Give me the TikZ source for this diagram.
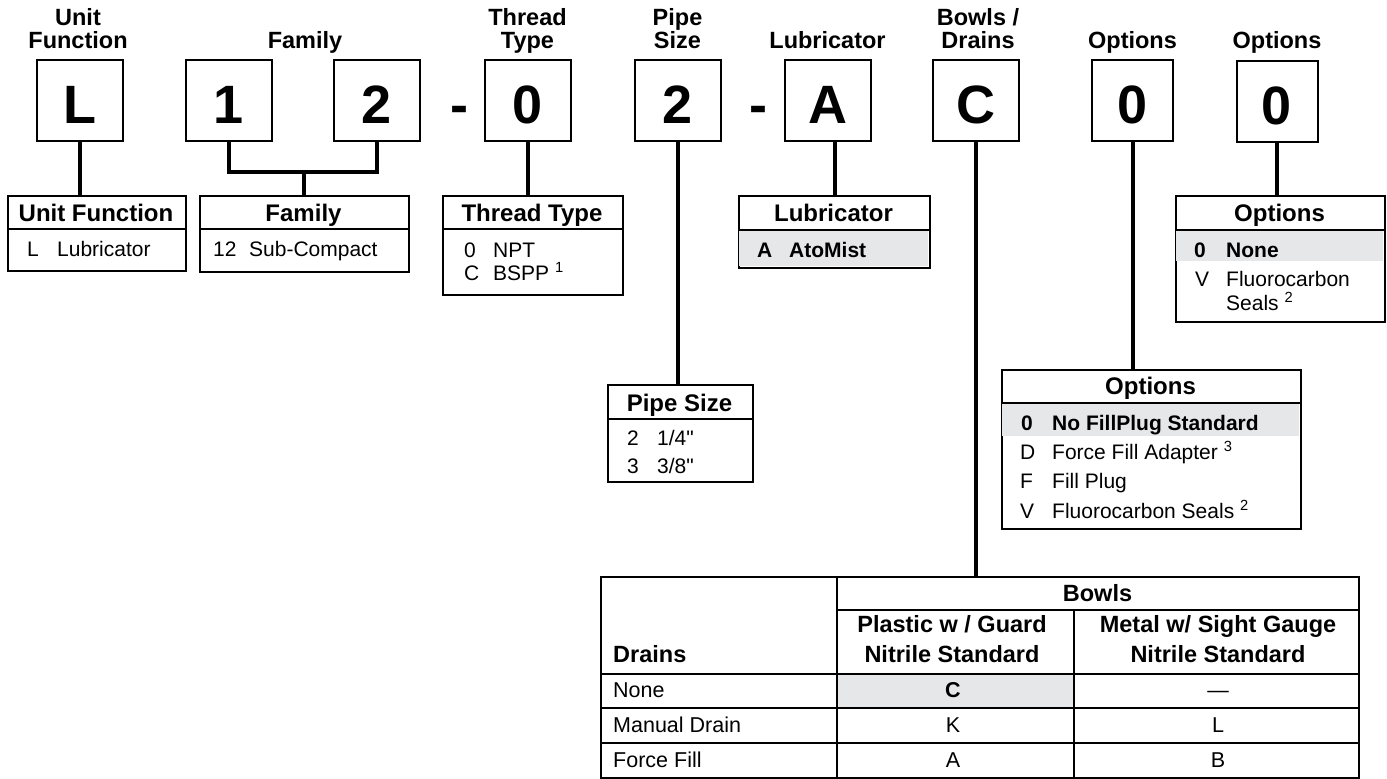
\documentclass[tikz,border=0pt]{standalone}
\usepackage{fontspec}
\setmainfont{Liberation Sans}
\newfontfamily\inchfont{Liberation Sans}
\usepackage{tikz}
\usetikzlibrary{positioning}
\definecolor{pickgray}{HTML}{E6E7E8}
\tikzstyle{codebox} = [rectangle, 
draw=black, 
line width=2pt, 
minimum width=86pt, 
minimum height=81pt, 
inner sep=0pt, 
text height=45pt, 
text depth=0pt, 
font=\fontsize{54}{54}\selectfont\bfseries]
\tikzstyle{hyph} = [anchor=base, inner sep=0pt, 
font=\fontsize{54}{54}\selectfont\bfseries]
\tikzstyle{toplabel} = [align=center, 
inner sep=0pt, 
text depth=0pt, 
anchor=south, 
font=\fontsize{23.5}{23}\selectfont\bfseries]
\tikzstyle{infobox} = [rectangle, 
draw=black, 
line width=2pt, 
anchor=north west, 
inner sep=0pt]
\tikzstyle{boxhead} = [anchor=base, inner sep=0pt, 
font=\fontsize{24}{26}\selectfont\bfseries]
\tikzstyle{tabhead} = [align=center, inner sep=0pt, 
text depth=0pt, anchor=south, 
font=\fontsize{23.5}{30}\selectfont\bfseries]
\tikzstyle{rowtext} = [anchor=base west, inner sep=0pt, 
font=\fontsize{21}{24}\selectfont]
\tikzstyle{rowbold} = [rowtext, 
font=\fontsize{21}{24}\selectfont\bfseries]
\tikzstyle{cellmid} = [anchor=base, inner sep=0pt, 
font=\fontsize{21.5}{24}\selectfont]
\tikzstyle{cellleft} = [cellmid, anchor=base west]
\tikzstyle{seprule} = [line width=2pt]
\tikzstyle{linkline} = [line width=4pt]
\tikzstyle{picked} = [fill=pickgray]

\begin{document}
\begin{tikzpicture}[x=1pt, y=-1pt]
        \useasboundingbox (0,0) rectangle (1387,779);

        % top labels
        \node (tUF) [toplabel] at (78,49) {Unit\\Function};
        \node (tFam) [toplabel] at (305,49) {Family};
        \node (tTT) [toplabel] at (527.5,49) {Thread\\Type};
        \node (tPS) [toplabel] at (677.5,49) {Pipe\\Size};
        \node (tLub) [toplabel] at (827.5,49) {Lubricator};
        \node (tBD) [toplabel] at (978,49) {Bowls /\\Drains};
        \node (tOpt1) [toplabel] at (1132.5,49) {Options};
        \node (tOpt2) [toplabel] at (1277,49) {Options};

        % code letters
        \node (cL) [codebox] at (80,100.5) {L};
        \node (cF1) [codebox] at (228.5,100.5) {1};
        \node (cF2) [codebox] at (377,100.5) {2};
        \node (h1) [hyph] at (459.5,123) {-};
        \node (cT) [codebox] at (527.5,100.5) {0};
        \node (cP) [codebox] at (677.5,100.5) {2};
        \node (h2) [hyph] at (758,123) {-};
        \node (cA) [codebox] at (827.5,100.5) {A};
        \node (cC) [codebox] at (976,100.5) {C};
        \node (cO1) [codebox, minimum width=81pt] at (1132.5,100.5) {0};
        \node (cO2) [codebox, minimum width=81pt] at (1277,101.5) {0};

        % unit function
        \node (ufbox) [infobox, minimum width=178pt, minimum height=75pt] at (7,195) {};
        \draw [seprule] (ufbox.west |- 0,229) -- (ufbox.east |- 0,229);
        \node (ufhead) [boxhead] at (96,221) {Unit Function};
        \node (ufL) [rowtext] at (27,256.5) {L};
        \node (ufLt) [rowtext] at (57,256.5) {Lubricator};

        % family
        \node (fambox) [infobox, minimum width=209pt, minimum height=76pt] at (199,195) {};
        \draw [seprule] (fambox.west |- 0,229) -- (fambox.east |- 0,229);
        \node (famhead) [boxhead] at (303.5,221) {Family};
        \node (fam12) [rowtext] at (213,256.5) {12};
        \node (fam12t) [rowtext] at (249,256.5) {Sub-Compact};

        % thread type
        \node (ttbox) [infobox, minimum width=180pt, minimum height=99pt] at (442,195) {};
        \draw [seprule] (ttbox.west |- 0,229) -- (ttbox.east |- 0,229);
        \node (tthead) [boxhead] at (532,221) {Thread Type};
        \node (tt0) [rowtext] at (464,257) {0};
        \node (tt0t) [rowtext] at (493,257) {NPT};
        \node (ttC) [rowtext] at (464,280) {C};
        \node (ttCt) [rowtext] at (493,280) {BSPP \textsuperscript{1}};

        % lubricator
        \node (lubbox) [infobox, minimum width=191pt, minimum height=72pt] at (738,195) {};
        \fill [picked] (739,231) rectangle (928,266);
        \draw [seprule] (lubbox.west |- 0,230) -- (lubbox.east |- 0,230);
        \node (lubhead) [boxhead] at (833.5,221) {Lubricator};
        \node (lubA) [rowbold] at (757,257) {A};
        \node (lubAt) [rowbold] at (789,257) {AtoMist};

        % options (seals)
        \node (robox) [infobox, minimum width=209pt, minimum height=126pt] at (1175,195) {};
        \fill [picked] (1176,231) rectangle (1383,261);
        \draw [seprule] (robox.west |- 0,230) -- (robox.east |- 0,230);
        \node (rohead) [boxhead] at (1279.5,221) {Options};
        \node (ro0) [rowbold] at (1194,257) {0};
        \node (ro0t) [rowbold] at (1226,257) {None};
        \node (roV) [rowtext] at (1195,286) {V};
        \node (roVt) [rowtext] at (1226,286) {Fluorocarbon};
        \node (roVs) [rowtext] at (1226,310) {Seals \textsuperscript{2}};

        % pipe size
        \node (psbox) [infobox, minimum width=145pt, minimum height=97pt] at (607,384) {};
        \draw [seprule] (psbox.west |- 0,419) -- (psbox.east |- 0,419);
        \node (pshead) [boxhead] at (679.5,411) {Pipe Size};
        \node (ps2) [rowtext] at (627,445) {2};
        \node (ps2t) [rowtext] at (657,445) {1/4{\inchfont"}};
        \node (ps3) [rowtext] at (627,473) {3};
        \node (ps3t) [rowtext] at (657,473) {3/8{\inchfont"}};

        % options (fill)
        \node (mobox) [infobox, minimum width=299pt, minimum height=159pt] at (1001,369) {};
        \fill [picked] (1002,404) rectangle (1299,436);
        \draw [seprule] (mobox.west |- 0,403) -- (mobox.east |- 0,403);
        \node (mohead) [boxhead] at (1150.5,394) {Options};
        \node (mo0) [rowbold] at (1021,430) {0};
        \node (mo0t) [rowbold] at (1052,430) {No FillPlug Standard};
        \node (moD) [rowtext] at (1020,459) {D};
        \node (moDt) [rowtext] at (1052,459) {Force Fill Adapter \textsuperscript{3}};
        \node (moF) [rowtext] at (1020,488) {F};
        \node (moFt) [rowtext] at (1052,488) {Fill Plug};
        \node (moV) [rowtext] at (1020,518) {V};
        \node (moVt) [rowtext] at (1052,518) {Fluorocarbon Seals \textsuperscript{2}};

        % bowls / drains table
        \node (tbl) [infobox, minimum width=758pt, minimum height=201pt] at (600,576) {};
        \fill [picked] (838,675) rectangle (1073,707);
        \draw [seprule] (837,576) -- (837,777);
        \draw [seprule] (837,610) -- (1358,610);
        \draw [seprule] (1074,610) -- (1074,777);
        \foreach \yrow in {674,708,743}
            \draw [seprule] (600,\yrow) -- (1358,\yrow);
        \node (tbBowls) [tabhead] at (1097.5,602) {Bowls};
        \node (tbDrains) [tabhead, anchor=south west] at (613,663) {Drains};
        \node (tbPlastic) [tabhead] at (952,663) {Plastic w / Guard\\Nitrile Standard};
        \node (tbMetal) [tabhead] at (1218,663) {Metal w/ Sight Gauge\\Nitrile Standard};
        \node (tbNone) [cellleft] at (613,697.5) {None};
        \node (tbManual) [cellleft] at (613,732.5) {Manual Drain};
        \node (tbForce) [cellleft] at (613,767.5) {Force Fill};
        \node (tbC) [cellmid] at (953,697.5) {\bfseries C};
        \node (tbK) [cellmid] at (953,732.5) {K};
        \node (tbA) [cellmid] at (953,767.5) {A};
        \node (tbNo) [cellmid] at (1218,697.5) {—};
        \node (tbL) [cellmid] at (1218,732.5) {L};
        \node (tbB) [cellmid] at (1218,767.5) {B};

        % connectors
        \coordinate (famjoin) at (303.5,172);
        \draw [linkline] (cL.south) -- (cL.south |- ufbox.north);
        \draw [linkline] (cF1.south) |- (famjoin) -| (cF2.south);
        \draw [linkline] (famjoin) -- (famjoin |- fambox.north);
        \draw [linkline] (cT.south) -- (cT.south |- ttbox.north);
        \draw [linkline] (cP.south) -- (cP.south |- psbox.north);
        \draw [linkline] (lubbox.north) -- (lubbox.north |- cA.south);
        \draw [linkline] (cC.south) -- (cC.south |- tbl.north);
        \draw [linkline] (cO1.south) -- (cO1.south |- mobox.north);
        \draw [linkline] (cO2.south) -- (cO2.south |- robox.north);

\end{tikzpicture}
\end{document}
